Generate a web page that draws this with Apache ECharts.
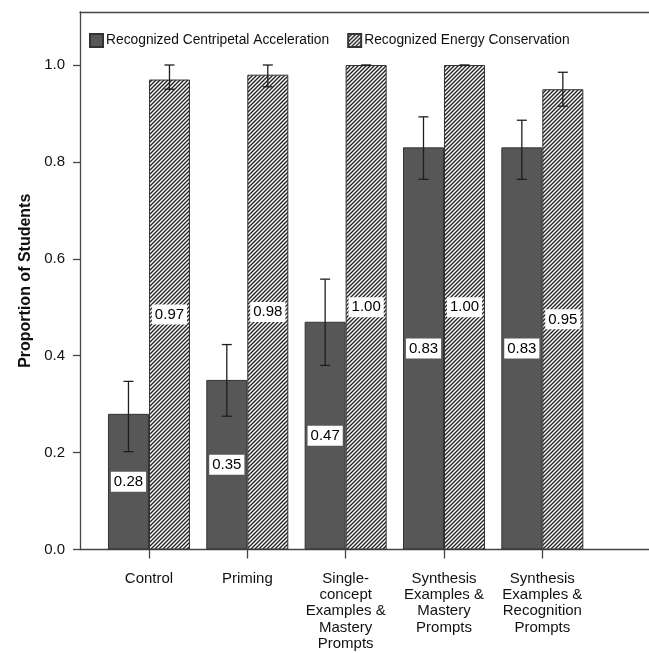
<!DOCTYPE html>
<html>
<head>
<meta charset="utf-8">
<title>Proportion of Students</title>
<script src="https://cdn.jsdelivr.net/npm/echarts@6/dist/echarts.min.js"></script>
<style>
  html, body { margin: 0; padding: 0; background: #fff; }
  #chart { width: 649px; height: 653px; }
</style>
</head>
<body>
<div id="chart"></div>
<script>
// Conditions on the x axis
const categories = [
  'Control',
  'Priming',
  'Single-\nconcept\nExamples &\nMastery\nPrompts',
  'Synthesis\nExamples &\nMastery\nPrompts',
  'Synthesis\nExamples &\nRecognition\nPrompts'
];

const seriesNames = ['Recognized Centripetal Acceleration', 'Recognized Energy Conservation'];

// Proportions
const centripetal = [0.28, 0.35, 0.47, 0.83, 0.83];
const energy = [0.97, 0.98, 1.00, 1.00, 0.95];

// Error bar ends
const centripetalLow = [0.202, 0.275, 0.380, 0.764, 0.764];
const centripetalHigh = [0.347, 0.423, 0.558, 0.893, 0.886];
const energyLow = [0.950, 0.955, 0.999, 0.999, 0.915];
const energyHigh = [1.000, 1.000, 1.000, 1.000, 0.985];

// Y axis ticks
const yTicks = [0, 0.2, 0.4, 0.6, 0.8, 1.0];

const FONT = '"Liberation Sans", Arial, sans-serif';
const BAR_W = 41;
const Y_MAX = 1.1094;

// Diagonal hatch fill
function hatchPattern() {
  const s = 4;
  const c = document.createElement('canvas');
  c.width = s; c.height = s;
  const g = c.getContext('2d');
  g.fillStyle = '#ffffff';
  g.fillRect(0, 0, s, s);
  g.strokeStyle = '#222222';
  g.lineWidth = 1.4;
  g.beginPath();
  g.moveTo(-1, s + 1); g.lineTo(s + 1, -1);
  g.moveTo(-1, 1); g.lineTo(1, -1);
  g.moveTo(s - 1, s + 1); g.lineTo(s + 1, s - 1);
  g.stroke();
  return { image: c, repeat: 'repeat' };
}
const hatch = hatchPattern();

function errData(lo, hi) {
  return lo.map((v, i) => [i, v, hi[i]]);
}

function errSeries(lo, hi, offset) {
  return {
    type: 'custom',
    xAxisIndex: 2,
    yAxisIndex: 1,
    z: 5,
    silent: true,
    data: errData(lo, hi),
    renderItem: function (params, api) {
      const top = api.coord([api.value(0), api.value(2)]);
      const bot = api.coord([api.value(0), api.value(1)]);
      const x = top[0] + offset;
      const cap = 5;
      const style = { stroke: '#1e1e1e', lineWidth: 1.3, fill: null };
      return {
        type: 'group',
        children: [
          { type: 'line', shape: { x1: x, y1: top[1], x2: x, y2: bot[1] }, style: style },
          { type: 'line', shape: { x1: x - cap, y1: top[1], x2: x + cap, y2: top[1] }, style: style },
          { type: 'line', shape: { x1: x - cap, y1: bot[1], x2: x + cap, y2: bot[1] }, style: style }
        ]
      };
    }
  };
}

const valueLabel = {
  show: true,
  position: 'inside',
  formatter: p => Number(p.value).toFixed(2),
  color: '#000',
  fontFamily: FONT,
  fontSize: 15,
  backgroundColor: '#ffffff',
  padding: [3, 3, 2, 3]
};

const chart = echarts.init(document.getElementById('chart'), null, { renderer: 'canvas' });

chart.setOption({
  animation: false,
  backgroundColor: '#ffffff',
  textStyle: { fontFamily: FONT },
  legend: {
    data: seriesNames,
    left: 89,
    top: 33,
    padding: 0,
    itemWidth: 13,
    itemHeight: 13,
    itemGap: 18,
    icon: 'rect',
    textStyle: { fontFamily: FONT, fontSize: 13.8, color: '#111', padding: [0, 0, 0, -2] }
  },
  grid: [
    { left: 80, right: 0, top: 12, bottom: 103.5 },
    { left: 99.8, right: 57.5, top: 12, bottom: 103.5 }
  ],
  xAxis: [
    // frame lines of the plot area
    {
      type: 'value', gridIndex: 0, min: 0, max: 1, position: 'bottom',
      axisLine: { show: true, lineStyle: { color: '#444', width: 1.3 } },
      axisTick: { show: false }, axisLabel: { show: false }, splitLine: { show: false }
    },
    {
      type: 'value', gridIndex: 0, min: 0, max: 1, position: 'top',
      axisLine: { show: true, lineStyle: { color: '#444', width: 1.3 } },
      axisTick: { show: false }, axisLabel: { show: false }, splitLine: { show: false }
    },
    // condition axis
    {
      type: 'category', gridIndex: 1, data: categories,
      axisLine: { show: false },
      axisTick: { show: true, alignWithLabel: true, length: 9, lineStyle: { color: '#444', width: 1.3 } },
      axisLabel: {
        interval: 0, margin: 21, fontFamily: FONT, fontSize: 15,
        lineHeight: 16.3, color: '#111', align: 'center'
      },
      splitLine: { show: false }
    }
  ],
  yAxis: [
    {
      type: 'value', gridIndex: 0, min: 0, max: Y_MAX,
      name: 'Proportion of Students',
      nameLocation: 'middle',
      nameGap: 46,
      nameRotate: 90,
      nameTextStyle: { fontFamily: FONT, fontSize: 16, fontWeight: 'bold', color: '#111' },
      axisLine: { show: true, lineStyle: { color: '#444', width: 1.3 } },
      axisTick: { show: true, length: 7, customValues: yTicks, lineStyle: { color: '#444', width: 1.3 } },
      axisLabel: {
        customValues: yTicks, margin: 15,
        formatter: v => Number(v).toFixed(1),
        fontFamily: FONT, fontSize: 15, color: '#111'
      },
      splitLine: { show: false }
    },
    {
      type: 'value', gridIndex: 1, min: 0, max: Y_MAX, show: false,
      splitLine: { show: false }
    }
  ],
  series: [
    {
      name: seriesNames[0],
      type: 'bar',
      xAxisIndex: 2, yAxisIndex: 1,
      data: centripetal,
      barWidth: BAR_W,
      barGap: '0%',
      itemStyle: { color: '#575757', borderColor: '#333', borderWidth: 1 },
      label: valueLabel,
      z: 2
    },
    {
      name: seriesNames[1],
      type: 'bar',
      xAxisIndex: 2, yAxisIndex: 1,
      data: energy,
      barWidth: BAR_W,
      barGap: '0%',
      itemStyle: { color: hatch, borderColor: '#333', borderWidth: 1 },
      label: valueLabel,
      z: 2
    },
    errSeries(centripetalLow, centripetalHigh, -BAR_W / 2),
    errSeries(energyLow, energyHigh, BAR_W / 2)
  ]
});
</script>
</body>
</html>
